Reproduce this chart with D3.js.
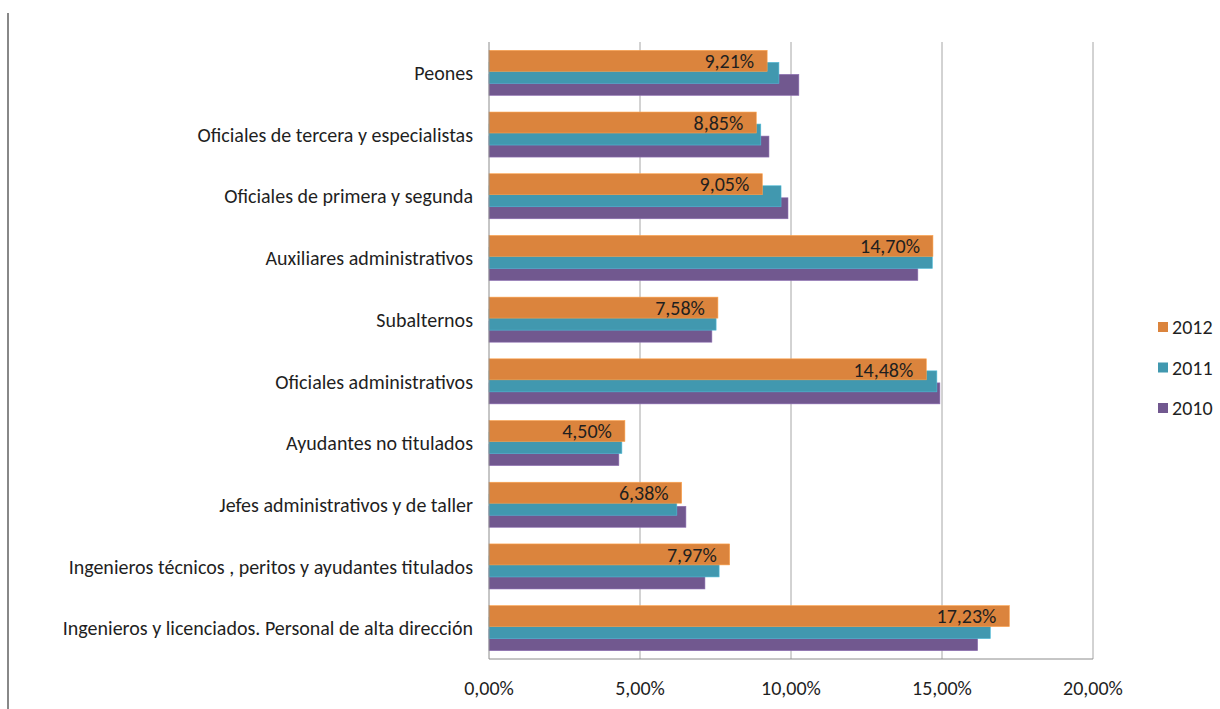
<!DOCTYPE html>
<html>
<head>
<meta charset="utf-8">
<script src="https://cdn.jsdelivr.net/npm/d3@7"></script>
<style>
  body { margin: 0; background: #fff; }
  svg text { font-family: Carlito, Calibri, "Liberation Sans Narrow", "Open Sans", sans-serif; fill: #1f1f1f; }
</style>
</head>
<body>
<div id="chart"></div>
<script>
// chart data, categories top to bottom
var categories = [
  "Peones",
  "Oficiales de tercera y especialistas",
  "Oficiales de primera y segunda",
  "Auxiliares administrativos",
  "Subalternos",
  "Oficiales administrativos",
  "Ayudantes no titulados",
  "Jefes administrativos y de taller",
  "Ingenieros técnicos , peritos y ayudantes titulados",
  "Ingenieros y licenciados. Personal de alta dirección"
];
var years = ["2012", "2011", "2010"];
var values2012 = [9.21, 8.85, 9.05, 14.70, 7.58, 14.48, 4.50, 6.38, 7.97, 17.23];
var values2011 = [9.60, 9.00, 9.67, 14.68, 7.52, 14.83, 4.40, 6.22, 7.62, 16.60];
var values2010 = [10.26, 9.27, 9.90, 14.20, 7.38, 14.93, 4.30, 6.52, 7.15, 16.18];
var xTicks = [0, 5, 10, 15, 20];
var colors = { "2012": "#db843d", "2011": "#4198af", "2010": "#71588f" };

var svgWidth = 1220;
var svgHeight = 709;
var margin = { top: 42, right: 127, bottom: 50, left: 489 };
var width = svgWidth - margin.left - margin.right;
var height = svgHeight - margin.top - margin.bottom;
var fontSize = "20px";

var svg = d3.select("#chart")
  .append("svg")
  .attr("width", svgWidth)
  .attr("height", svgHeight);

// thin frame line on the left edge
svg.append("line")
  .attr("x1", 8).attr("x2", 8)
  .attr("y1", 13).attr("y2", svgHeight)
  .attr("stroke", "#888")
  .attr("stroke-width", 2);

var chartGroup = svg.append("g")
  .attr("transform", `translate(${margin.left}, ${margin.top})`);

var xScale = d3.scaleLinear().domain([0, 20]).range([0, width]);
var yScale = d3.scaleBand().domain(categories).range([0, height]);

// bar geometry inside each band (overlapping series)
var barH = yScale.bandwidth() * 0.34;
var subScale = d3.scalePoint().domain(years).range([0, yScale.bandwidth() * 0.39]);
var groupPad = (yScale.bandwidth() - (subScale.range()[1] + barH)) / 2;

// gridlines
chartGroup.selectAll(".grid")
  .data(xTicks.slice(1))
  .enter()
  .append("line")
  .attr("x1", d => xScale(d)).attr("x2", d => xScale(d))
  .attr("y1", 0).attr("y2", height)
  .attr("stroke", "#a6a6a6")
  .attr("stroke-width", 1);

// rows of data per year
var series = {
  "2012": values2012,
  "2011": values2011,
  "2010": values2010
};

// draw 2010 first so 2012 sits on top
["2010", "2011", "2012"].forEach(function(year) {
  chartGroup.selectAll(".bar-" + year)
    .data(series[year])
    .enter()
    .append("rect")
    .attr("x", 0)
    .attr("y", (d, i) => yScale(categories[i]) + groupPad + subScale(year))
    .attr("width", d => xScale(d))
    .attr("height", barH)
    .attr("fill", colors[year])
    .attr("stroke", d3.color(colors[year]).brighter(0.6))
    .attr("stroke-width", 0.6);
});

// labels for 2012
chartGroup.selectAll(".label")
  .data(values2012)
  .enter()
  .append("text")
  .attr("x", d => xScale(d) - 13)
  .attr("y", (d, i) => yScale(categories[i]) + groupPad + subScale("2012") + barH / 2)
  .attr("dy", "0.36em")
  .attr("text-anchor", "end")
  .style("font-size", fontSize)
  .text(d => d.toFixed(2).replace(".", ",") + "%");

// axes lines
chartGroup.append("line")
  .attr("x1", 0).attr("x2", 0)
  .attr("y1", 0).attr("y2", height)
  .attr("stroke", "#8c8c8c");
chartGroup.append("line")
  .attr("x1", 0).attr("x2", width)
  .attr("y1", height).attr("y2", height)
  .attr("stroke", "#8c8c8c");

// x tick labels
chartGroup.selectAll(".xtick")
  .data(xTicks)
  .enter()
  .append("text")
  .attr("x", d => xScale(d))
  .attr("y", height + 29)
  .attr("dy", "0.36em")
  .attr("text-anchor", "middle")
  .style("font-size", fontSize)
  .text(d => d.toFixed(2).replace(".", ",") + "%");

// category labels
chartGroup.selectAll(".ytick")
  .data(categories)
  .enter()
  .append("text")
  .attr("x", -16)
  .attr("y", d => yScale(d) + yScale.bandwidth() / 2)
  .attr("dy", "0.36em")
  .attr("text-anchor", "end")
  .style("font-size", fontSize)
  .text(d => d);

// legend
var legend = svg.append("g")
  .attr("transform", "translate(1158, 327)");
years.forEach(function(year, i) {
  var item = legend.append("g").attr("transform", `translate(0, ${i * 40.5})`);
  item.append("rect")
    .attr("x", 0).attr("y", -5)
    .attr("width", 10).attr("height", 10)
    .attr("fill", colors[year]);
  item.append("text")
    .attr("x", 14)
    .attr("y", 0)
    .attr("dy", "0.36em")
    .style("font-size", fontSize)
    .text(year);
});
</script>
</body>
</html>
